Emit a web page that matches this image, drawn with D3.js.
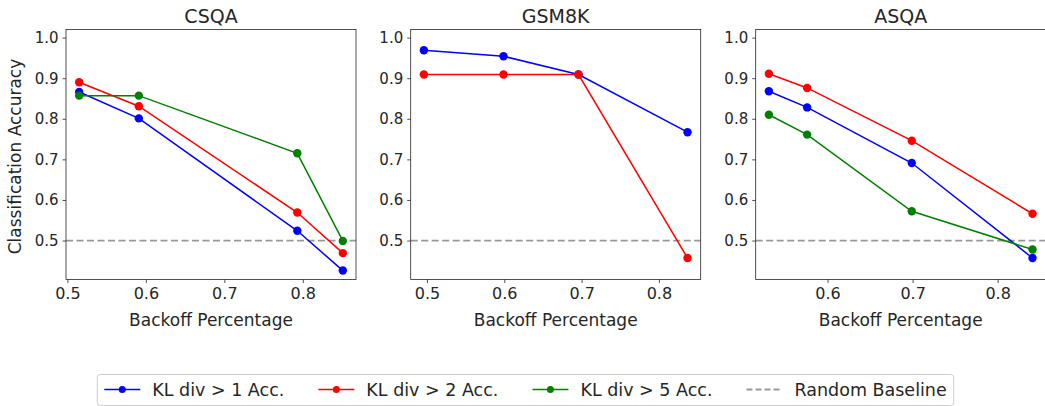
<!DOCTYPE html>
<html>
<head>
<meta charset="utf-8">
<script src="https://cdn.jsdelivr.net/npm/d3@7"></script>
<style>
  body { margin: 0; background: #fff; }
  svg { display: block; font-family: "DejaVu Sans", sans-serif; }
</style>
</head>
<body>
<svg id="canvas" width="1045" height="406"></svg>
<script>
// data
let panelNames = ['CSQA', 'GSM8K', 'ASQA']
let seriesNames = ['KL div > 1 Acc.', 'KL div > 2 Acc.', 'KL div > 5 Acc.']
let seriesColors = ['blue', 'red', 'green']

let csqaX = [0.515, 0.591, 0.793, 0.851]
let csqaKl1 = [0.866, 0.801, 0.524, 0.426]
let csqaKl2 = [0.890, 0.831, 0.569, 0.469]
let csqaKl5 = [0.857, 0.857, 0.715, 0.499]

let gsmX = [0.496, 0.599, 0.696, 0.837]
let gsmKl1 = [0.969, 0.954, 0.909, 0.767]
let gsmKl2 = [0.909, 0.909, 0.909, 0.457]

let asqaX = [0.531, 0.576, 0.699, 0.841]
let asqaKl1 = [0.868, 0.828, 0.691, 0.457]
let asqaKl2 = [0.911, 0.876, 0.746, 0.566]
let asqaKl5 = [0.810, 0.761, 0.572, 0.478]

let xTicks = [0.5, 0.6, 0.7, 0.8]
let yTicks = [0.5, 0.6, 0.7, 0.8, 0.9, 1.0]
let baseline = 0.5

let panels = [
    { name: panelNames[0], x: csqaX, series: [csqaKl1, csqaKl2, csqaKl5] },
    { name: panelNames[1], x: gsmX, series: [gsmKl1, gsmKl2, null] },
    { name: panelNames[2], x: asqaX, series: [asqaKl1, asqaKl2, asqaKl5] }
]

let canvas = d3.select('#canvas')

let panelLeft = [66, 410.7, 755.7]
let panelW = 290
let plotTop = 29.5, plotBottom = 279.5
let ink = '#262626'
let dash = '7,3.5'

panels.forEach((p, i) => {
    let ext = d3.extent(p.x)
    let pad = (ext[1] - ext[0]) * 0.05
    let x = d3.scaleLinear().domain([ext[0] - pad, ext[1] + pad]).range([panelLeft[i], panelLeft[i] + panelW])
    let y = d3.scaleLinear().domain([0.404, 1.02]).range([plotBottom, plotTop])

    let g = canvas.append('g')

    // random baseline
    g.append('line')
        .attr('x1', x.range()[0]).attr('x2', x.range()[1])
        .attr('y1', y(baseline)).attr('y2', y(baseline))
        .attr('stroke', '#999999').attr('stroke-width', 1.8)
        .attr('stroke-dasharray', dash)

    p.series.forEach((vals, k) => {
        if (!vals) return
        let pts = vals.map((v, j) => [p.x[j], v])
        g.append('path')
            .datum(pts)
            .attr('fill', 'none')
            .attr('stroke', seriesColors[k])
            .attr('stroke-width', 1.5)
            .attr('d', d3.line().x(d => x(d[0])).y(d => y(d[1])))
        g.selectAll(null).data(pts).enter().append('circle')
            .attr('cx', d => x(d[0])).attr('cy', d => y(d[1]))
            .attr('r', 4.2)
            .attr('fill', seriesColors[k])
    })

    // axes
    let xa = g.append('g').attr('transform', `translate(0,${plotBottom})`)
        .call(d3.axisBottom(x).tickValues(xTicks.filter(t => t >= x.domain()[0] && t <= x.domain()[1]))
            .tickFormat(d3.format('.1f')).tickSizeOuter(0).tickSize(3.5).tickPadding(4.5))
    let ya = g.append('g').attr('transform', `translate(${panelLeft[i]},0)`)
        .call(d3.axisLeft(y).tickValues(yTicks).tickFormat(d3.format('.1f')).tickSizeOuter(0).tickSize(3.5).tickPadding(4))
    ;[xa, ya].forEach(a => {
        a.select('.domain').remove()
        a.selectAll('line').attr('stroke', ink).attr('stroke-width', 0.8)
        a.selectAll('text').attr('fill', ink).style('font-family', '"DejaVu Sans", sans-serif')
    })
    xa.selectAll('text').style('font-size', '16px')
    ya.selectAll('text').style('font-size', '15px')

    g.append('rect')
        .attr('x', panelLeft[i]).attr('y', plotTop)
        .attr('width', panelW).attr('height', plotBottom - plotTop)
        .attr('fill', 'none').attr('stroke', ink).attr('stroke-width', 0.8)

    g.append('text')
        .attr('x', panelLeft[i] + panelW / 2).attr('y', 22.5)
        .attr('text-anchor', 'middle')
        .style('font-size', '19px').attr('fill', ink)
        .text(p.name)

    g.append('text')
        .attr('x', panelLeft[i] + panelW / 2).attr('y', 325.5)
        .attr('text-anchor', 'middle')
        .style('font-size', '17px').attr('fill', ink)
        .text('Backoff Percentage')

    if (i == 0) {
        g.append('text')
            .attr('transform', `translate(21,${(plotTop + plotBottom) / 2 + 2}) rotate(-90)`)
            .attr('text-anchor', 'middle')
            .style('font-size', '17px').attr('fill', ink)
            .text('Classification Accuracy')
    }
})

// legend
let legend = canvas.append('g')
let box = legend.append('rect')
    .attr('y', 374.5).attr('height', 31).attr('rx', 3)
    .attr('fill', 'white').attr('stroke', '#cccccc').attr('stroke-width', 1)

let items = seriesNames.map((n, k) => ({ name: n, color: seriesColors[k], dashed: false }))
items.push({ name: 'Random Baseline', color: '#999999', dashed: true })

let cx = 0
let ly = 389.5
let entries = legend.append('g')
items.forEach(it => {
    let e = entries.append('g').attr('transform', `translate(${cx},0)`)
    e.append('line')
        .attr('x1', 0).attr('x2', 36).attr('y1', ly).attr('y2', ly)
        .attr('stroke', it.color).attr('stroke-width', it.dashed ? 1.8 : 1.5)
        .attr('stroke-dasharray', it.dashed ? '6,3' : null)
    if (!it.dashed) {
        e.append('circle').attr('cx', 18).attr('cy', ly).attr('r', 3.5).attr('fill', it.color)
    }
    let t = e.append('text')
        .attr('x', 48).attr('y', ly + 6)
        .style('font-size', '17.5px').attr('fill', ink)
        .text(it.name)
    cx += 48 + t.node().getComputedTextLength() + 34
})
let totalW = cx - 34
let startX = 525.5 - totalW / 2
entries.attr('transform', `translate(${startX},0)`)
box.attr('x', startX - 7).attr('width', totalW + 14)
</script>
</body>
</html>
